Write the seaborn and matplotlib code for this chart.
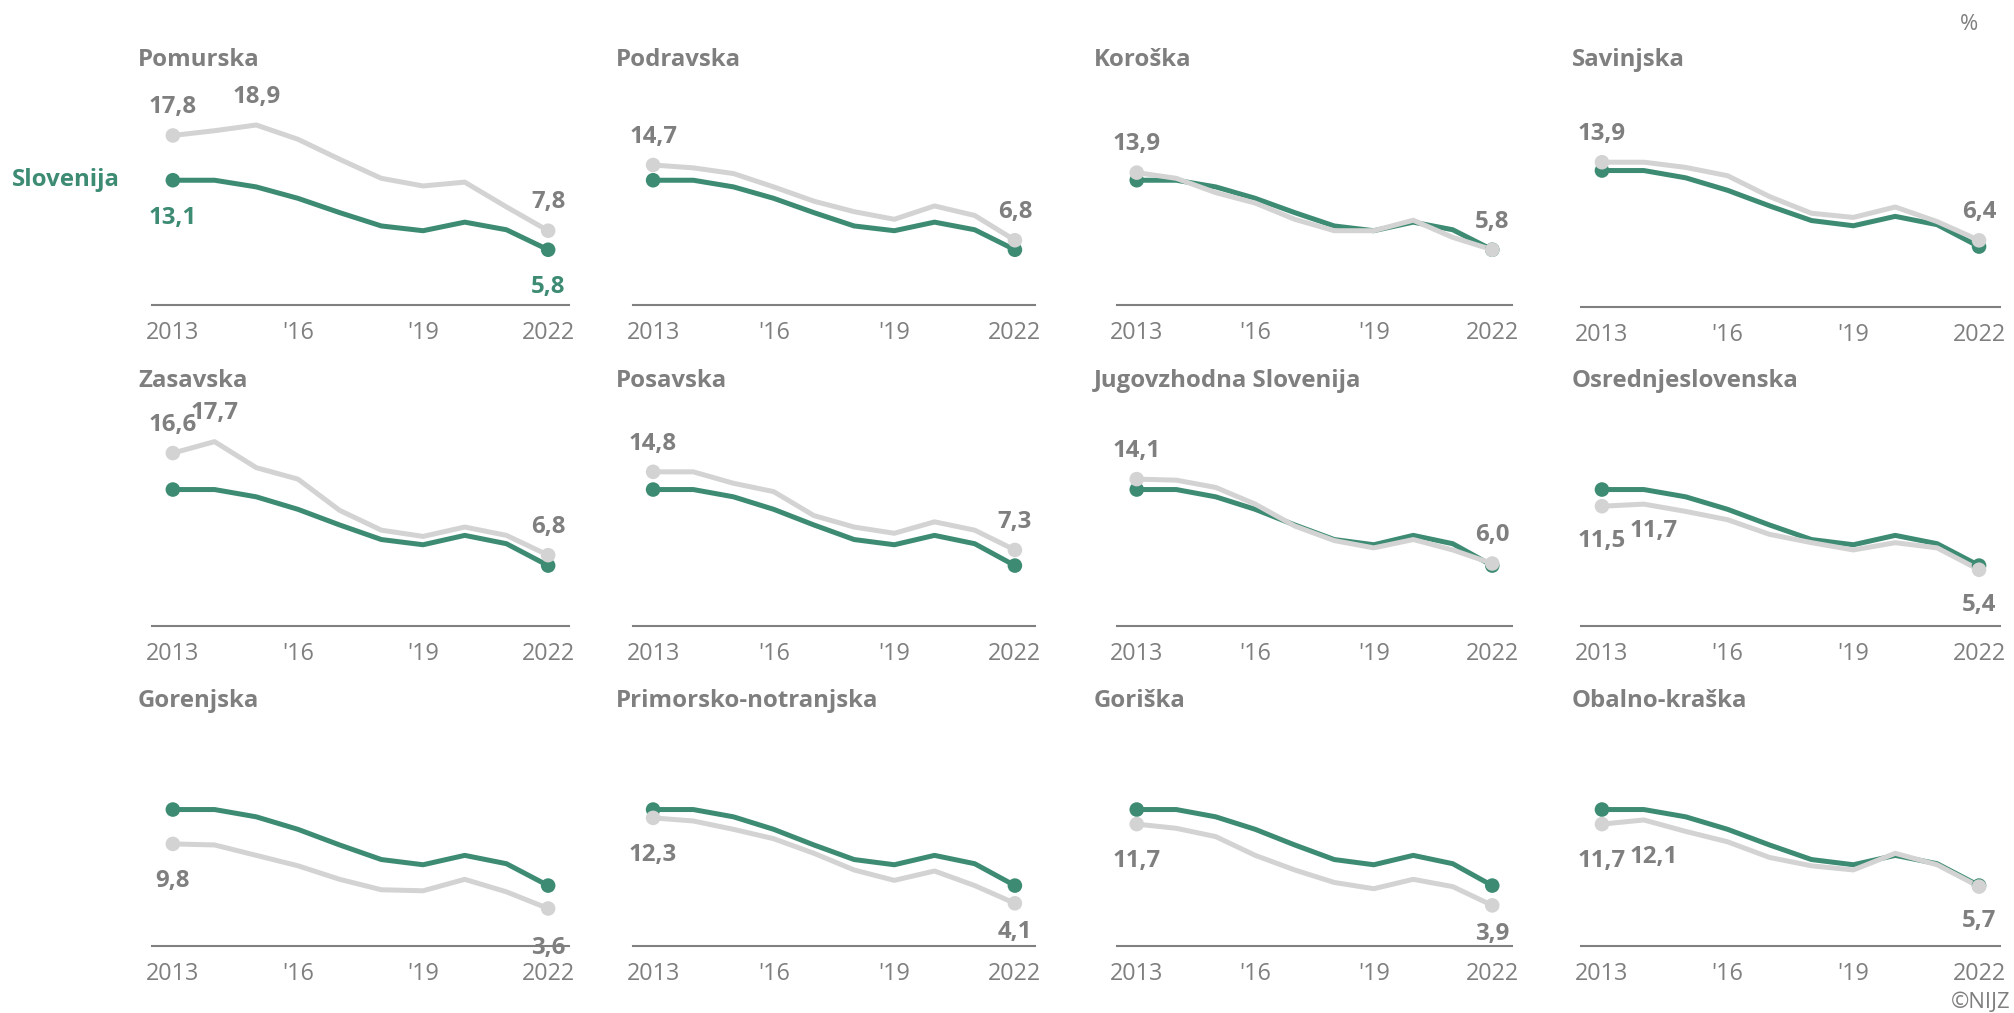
import matplotlib.pyplot as plt
import seaborn as sns

# Data (%, 2013-2022)
years = list(range(2013, 2023))
slovenija = [13.1, 13.1, 12.4, 11.2, 9.7, 8.3, 7.8, 8.7, 7.9, 5.8]

regions = ['Pomurska', 'Podravska', 'Koroška', 'Savinjska',
           'Zasavska', 'Posavska', 'Jugovzhodna Slovenija', 'Osrednjeslovenska',
           'Gorenjska', 'Primorsko-notranjska', 'Goriška', 'Obalno-kraška']

pomurska = [17.8, 18.3, 18.9, 17.4, 15.3, 13.3, 12.5, 12.9, 10.3, 7.8]
podravska = [14.7, 14.4, 13.8, 12.4, 10.9, 9.8, 9.0, 10.4, 9.4, 6.8]
koroska = [13.9, 13.3, 11.8, 10.7, 9.0, 7.8, 7.8, 8.9, 7.1, 5.8]
savinjska = [13.9, 13.9, 13.4, 12.6, 10.6, 9.0, 8.6, 9.6, 8.2, 6.4]
zasavska = [16.6, 17.7, 15.2, 14.1, 11.1, 9.2, 8.6, 9.5, 8.7, 6.8]
posavska = [14.8, 14.8, 13.7, 12.9, 10.6, 9.5, 8.9, 10.0, 9.2, 7.3]
jugovzhodna = [14.1, 14.0, 13.3, 11.7, 9.6, 8.2, 7.5, 8.3, 7.3, 6.0]
osrednjeslovenska = [11.5, 11.7, 11.0, 10.2, 8.8, 8.0, 7.3, 8.0, 7.5, 5.4]
gorenjska = [9.8, 9.7, 8.7, 7.7, 6.4, 5.4, 5.3, 6.4, 5.2, 3.6]
primorsko = [12.3, 12.0, 11.2, 10.3, 8.9, 7.3, 6.3, 7.2, 5.8, 4.1]
goriska = [11.7, 11.3, 10.5, 8.7, 7.3, 6.1, 5.5, 6.4, 5.7, 3.9]
obalno = [11.7, 12.1, 11.0, 10.0, 8.5, 7.7, 7.3, 8.9, 7.8, 5.7]

region_values = [pomurska, podravska, koroska, savinjska,
                 zasavska, posavska, jugovzhodna, osrednjeslovenska,
                 gorenjska, primorsko, goriska, obalno]

tick_years = [2013, 2016, 2019, 2022]
tick_labels = ['2013', "'16", "'19", '2022']

GREEN = '#3d8b73'
LIGHT = '#d3d3d3'
TEXT = '#7f7f7f'
FS = 17.3
FS_TICK = 16.8

# label offsets (points, to the text baseline) where the reference deviates
label_dy = {
    ('Osrednjeslovenska', 2013): -29.5,
    ('Osrednjeslovenska', 2014): -24.0,
    ('Osrednjeslovenska', 2022): -29.5,
    ('Primorsko-notranjska', 2022): -24.7,
    ('Goriška', 2022): -24.7,
    ('Obalno-kraška', 2022): -29.0,
    ('Gorenjska', 2022): -32.6,
}

sns.set_theme(style='white')
plt.rcParams['font.family'] = ['Open Sans', 'DejaVu Sans']

W, H = 2015, 1013
fig = plt.figure(figsize=(W / 100, H / 100), dpi=100)

# panel layout in pixels
col_left = [152, 633, 1117, 1581]
col_right = [569, 1035, 1512, 2000]
row_base = [305, 626, 946]
AX_H = 200


def fmt(v):
    return f'{v:.1f}'.replace('.', ',')


def label(ax, x, y, above, color=TEXT, dx=0, dy=None):
    if dy is None:
        dy = 16 if above else -31.2
    ax.annotate(fmt(y), (x, y), xytext=(dx, dy), textcoords='offset points',
                ha='center', va='baseline', fontsize=FS, fontweight='bold',
                color=color)


for i, (name, vals) in enumerate(zip(regions, region_values)):
    r, c = divmod(i, 4)
    base = row_base[r] + (2 if (r == 0 and c == 3) else 0)
    ymax = 21.0 if (r == 0 and c < 3) else 19.2
    ax = fig.add_axes([col_left[c] / W, 1 - base / H,
                       (col_right[c] - col_left[c]) / W, AX_H / H])

    sns.lineplot(x=years, y=slovenija, ax=ax, color=GREEN, linewidth=3.6)
    sns.scatterplot(x=[years[0], years[-1]], y=[slovenija[0], slovenija[-1]],
                    ax=ax, color=GREEN, s=110, edgecolor='none', zorder=3)
    sns.lineplot(x=years, y=vals, ax=ax, color=LIGHT, linewidth=3.6)
    sns.scatterplot(x=[years[0], years[-1]], y=[vals[0], vals[-1]],
                    ax=ax, color=LIGHT, s=110, edgecolor='none', zorder=4)

    ax.set_xlim(2012.5, 2022.5)
    ax.set_ylim(0, ymax)
    ax.set_xticks(tick_years)
    ax.set_xticklabels(tick_labels)
    ax.set_yticks([])
    ax.set_xlabel('')
    ax.set_ylabel('')
    ax.tick_params(axis='x', length=0, pad=11.5, labelsize=FS_TICK,
                   labelcolor=TEXT)
    for s in ['top', 'right', 'left']:
        ax.spines[s].set_visible(False)
    ax.spines['bottom'].set_color('#808080')
    ax.spines['bottom'].set_linewidth(1.5)
    ax.patch.set_alpha(0)

    # region value labels: first, last and peak year
    above = vals[0] > slovenija[0]
    shown = [0, len(vals) - 1]
    peak = vals.index(max(vals))
    if peak not in shown:
        shown.append(peak)
    for k in shown:
        dx = 7 if (k == peak and k != 0 and not above) else 0
        label(ax, years[k], vals[k], above, dx=dx,
              dy=label_dy.get((name, years[k])))

    fig.text((138 + 478 * c) / W, 1 - (row_base[r] - 239) / H, name,
             ha='left', va='baseline', fontsize=FS, fontweight='bold',
             color=TEXT)

    if i == 0:
        label(ax, years[0], slovenija[0], False, color=GREEN)
        label(ax, years[-1], slovenija[-1], False, color=GREEN)
        ax.annotate('Slovenija', (years[0], slovenija[0]), xytext=(-38, 0),
                    textcoords='offset points', ha='right', va='center',
                    fontsize=FS, fontweight='bold', color=GREEN)

fig.text(1969 / W, 1 - 25 / H, '%', ha='center', va='center',
         fontsize=FS_TICK - 1, color=TEXT)
fig.text(2011 / W, 1 - 1002 / H, '©NIJZ', ha='right', va='center',
         fontsize=FS_TICK - 1, color=TEXT)

fig.savefig('out.png', dpi=100)
